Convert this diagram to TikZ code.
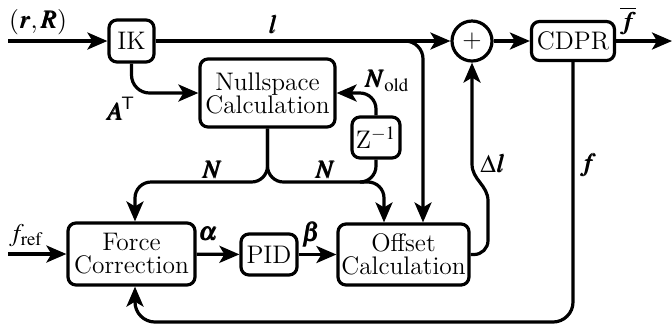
\documentclass[tikz,border=0pt]{standalone}
\usepackage{mathptmx}
\usepackage{bm}
\usetikzlibrary{arrows.meta}
\begin{document}
\begin{tikzpicture}[x=0.5pt,y=-0.5pt,
  font=\fontsize{12.7}{11.5}\selectfont,
  line width=1.6pt,
  arr/.style={-{Stealth[length=10pt,width=8.5pt,inset=2.5pt]}},
  blk/.style={draw,rounded corners=4pt,align=center,inner sep=1pt,line width=1.6pt},
  lbl/.style={inner sep=0pt}]
\useasboundingbox (0,0) rectangle (672,329);
% blocks
\node[blk,minimum width=22.5pt,minimum height=21pt] (ik) at (131.5,41) {IK};
\node[blk,minimum width=67.5pt,minimum height=34pt] (ns) at (267.5,93) {Nullspace\\Calculation};
\node[draw,circle,minimum size=20pt,inner sep=0pt] (pl) at (472,41) {+};
\node[blk,minimum width=24pt,minimum height=20.5pt] (z) at (376,137.5) {Z$^{-1}$};
\node[blk,minimum width=41.5pt,minimum height=19.5pt] (cd) at (573,41) {CDPR};
\node[blk,minimum width=63.5pt,minimum height=31pt] (fc) at (131.5,254) {Force\\Correction};
\node[blk,minimum width=28pt,minimum height=20.5pt] (pid) at (269,254.5) {PID};
\node[blk,minimum width=65.5pt,minimum height=30.5pt] (oc) at (403.5,254.5) {Offset\\Calculation};
% auxiliary coordinates
\coordinate (in1) at (8,41);
\coordinate (in2) at (8,254);
\coordinate (out) at (672,41);
\coordinate (nl) at (135,182);
\coordinate (nr) at (384,182);
\coordinate (lb) at (423,41);
\coordinate (fb) at (135,322);
\coordinate (dl1) at (488,254.5);
\coordinate (dl2) at (488,215);
\coordinate (dl3) at (472,150);
% connectors
\draw[arr] (in1) -- (ik);
\draw[arr] (in2) -- (in2 -| fc.west);
\draw[arr] (ik) -- (pl);
\draw[arr] (pl) -- (cd);
\draw[arr] (cd) -- (out);
\draw[arr,rounded corners=9pt] (ik.south) |- (ns.west);
\draw[arr,rounded corners=9pt] ([xshift=-20pt]lb) -- (lb) -- (lb |- oc.north);
\draw[arr,rounded corners=8pt] (z.north) |- (ns.east);
\draw[arr,rounded corners=8pt] (ns.south) |- (nl) -- (nl |- fc.north);
\draw[arr,rounded corners=8pt] (ns.south) |- (nr) -- (nr |- oc.north);
\draw[rounded corners=8pt] (z.south) |- ([xshift=-10pt]nr);
\draw[arr] (fc) -- (pid);
\draw[arr] (pid) -- (oc);
\draw[arr,rounded corners=7pt] (oc.east) -- (dl1) -- (dl2) .. controls (488,185) and (472,180) .. (dl3) -- (pl.south);
\draw[arr,rounded corners=10pt] (cd.south) |- (fb) -- (fb |- fc.south);
% labels
\node[lbl] (t1) at (38,22) {$(\bm{r},\bm{R})$};
\node[lbl] (t2) at (273,24) {$\bm{l}$};
\node[lbl] (t3) at (121,109) {$\bm{A}^{\!\mathsf{T}}$};
\node[lbl] (t4) at (387,81) {$\bm{N}_{\mathrm{old}}$};
\node[lbl] (t5) at (212,170) {$\bm{N}$};
\node[lbl] (t6) at (325,170) {$\bm{N}$};
\node[lbl] (t7) at (628,21) {$\overline{\bm{f}}$};
\node[lbl] (t8) at (493,163) {$\Delta\bm{l}$};
\node[lbl] (t9) at (588,165) {$\bm{f}$};
\node[lbl] (t10) at (26,236) {$f_{\mathrm{ref}}$};
\node[lbl] (t11) at (208,234) {$\bm{\alpha}$};
\node[lbl] (t12) at (311,234) {$\bm{\beta}$};
\end{tikzpicture}
\end{document}
